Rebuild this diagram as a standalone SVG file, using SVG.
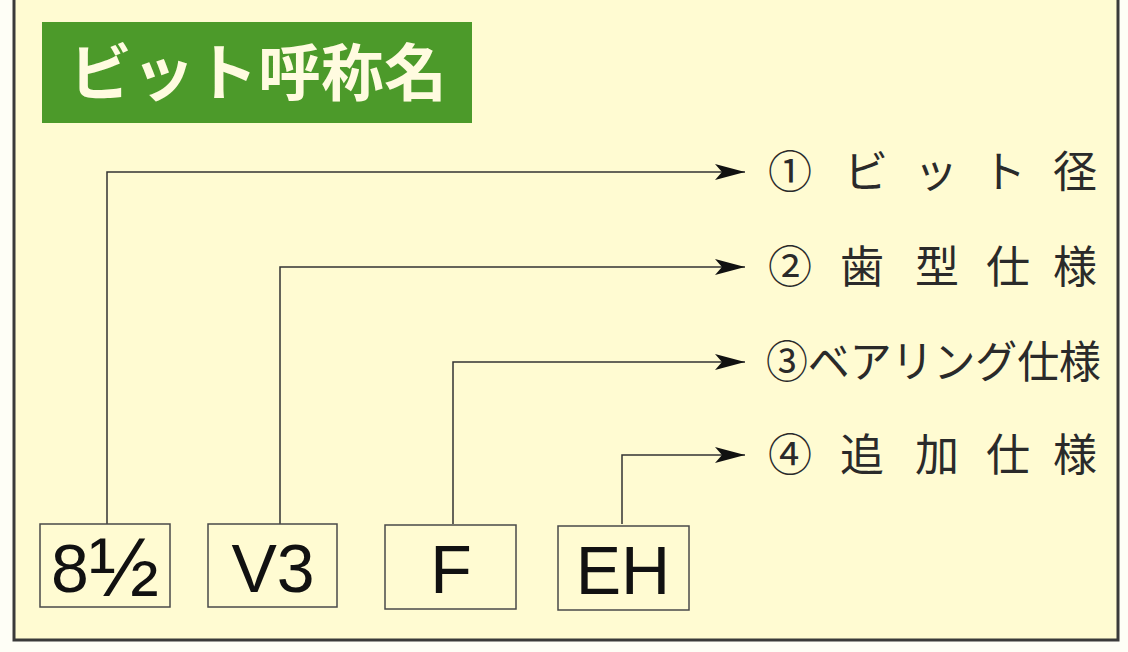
<svg xmlns="http://www.w3.org/2000/svg" width="1128" height="652" viewBox="0 0 1128 652">
<defs>
<style>
.frame{fill:#fffbd2;stroke:#3a3a3a;stroke-width:3}
.title{fill:#4c9a2a}
.ttext{font-family:"Noto Sans CJK JP",sans-serif;font-weight:bold;font-size:62px;fill:#fffbe0}
.box{fill:#fffbd2;stroke:#4a4a4a;stroke-width:1.5}
.btext{font-family:"Liberation Sans",Arial,sans-serif;font-size:68px;fill:#111;text-anchor:middle}
.lbl{font-family:"Noto Sans CJK JP",sans-serif;font-size:44px;fill:#2a2a2a;text-anchor:middle}
.lbls{font-family:"Noto Sans CJK JP",sans-serif;font-size:44px;fill:#2a2a2a;text-anchor:start}
.conn{fill:none;stroke:#333;stroke-width:1.5}
</style>
<marker id="arr" viewBox="0 0 30 16" refX="30" refY="8" markerWidth="30" markerHeight="16" markerUnits="userSpaceOnUse" orient="auto">
<path d="M0,0 L30,8 L0,16 L7,8 Z" fill="#111"/>
</marker>
</defs>
<rect x="0" y="0" width="1128" height="652" fill="#fefef6"/>
<rect class="frame" x="14" y="-2" width="1104" height="642"/>
<g id="title">
<rect class="title" x="42" y="22" width="430" height="101"/>
<text class="ttext" x="258" y="96" text-anchor="middle" textLength="378" lengthAdjust="spacingAndGlyphs">ビット呼称名</text>
</g>
<g id="connectors">
<path class="conn" d="M107,524 V172 H745" marker-end="url(#arr)"/>
<path class="conn" d="M280,524 V267 H745" marker-end="url(#arr)"/>
<path class="conn" d="M453,524 V362 H745" marker-end="url(#arr)"/>
<path class="conn" d="M622,524 V455 H745" marker-end="url(#arr)"/>
</g>
<g id="box1">
<rect class="box" x="40" y="524" width="130" height="83"/>
<text class="btext" x="105" y="592">8<tspan font-size="84" dy="4">½</tspan></text>
</g>
<g id="box2">
<rect class="box" x="208" y="524" width="129" height="83"/>
<text class="btext" x="273" y="592">V3</text>
</g>
<g id="box3">
<rect class="box" x="385" y="525" width="131" height="84"/>
<text class="btext" x="451" y="593">F</text>
</g>
<g id="box4">
<rect class="box" x="558" y="526" width="131" height="84"/>
<text class="btext" x="623" y="594">EH</text>
</g>
<g id="label1">
<text class="lbl" y="188"><tspan x="790">①</tspan><tspan x="866">ビ</tspan><tspan x="936">ッ</tspan><tspan x="1004">ト</tspan><tspan x="1075">径</tspan></text>
</g>
<g id="label2">
<text class="lbl" y="283"><tspan x="790">②</tspan><tspan x="862">歯</tspan><tspan x="937">型</tspan><tspan x="1008">仕</tspan><tspan x="1075">様</tspan></text>
</g>
<g id="label3">
<text class="lbls" x="766" y="378" textLength="335" lengthAdjust="spacingAndGlyphs">③ベアリング仕様</text>
</g>
<g id="label4">
<text class="lbl" y="471"><tspan x="790">④</tspan><tspan x="862">追</tspan><tspan x="937">加</tspan><tspan x="1008">仕</tspan><tspan x="1075">様</tspan></text>
</g>
</svg>
